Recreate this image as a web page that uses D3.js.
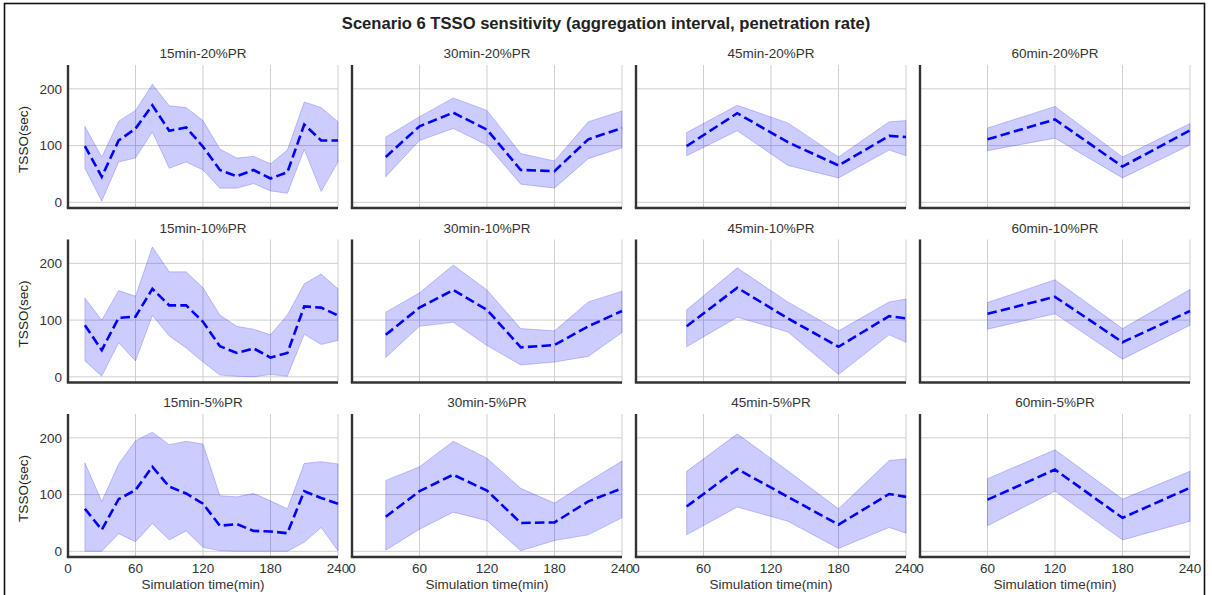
<!DOCTYPE html>
<html><head><meta charset="utf-8">
<script src="https://cdn.jsdelivr.net/npm/d3@7"></script>
<style>
html,body{margin:0;padding:0;background:#fff;}
text{font-family:"Liberation Sans",Arial,sans-serif;}
</style></head>
<body><svg id="chart" width="1212" height="595"></svg>
<script>
// ---------- data ----------
const chartTitle = "Scenario 6 TSSO sensitivity (aggregation interval, penetration rate)";
const intervals = ["15min","30min","45min","60min"];
const rates = ["20%PR","10%PR","5%PR"];
const xTicks = [0,60,120,180,240];
const yTicks = [0,100,200];
const xLabel = "Simulation time(min)";
const yLabel = "TSSO(sec)";

const x15 = [15,30,45,60,75,90,105,120,135,150,165,180,195,210,225,240];
const x30 = [30,60,90,120,150,180,210,240];
const x45 = [45,90,135,180,225,240];
const x60 = [60,120,180,240];

// 20% PR
const m15_20  = [99,45,109,130,171,126,132,98,57,46,57,42,53,137,109,109];
const hi15_20 = [134,80,143,162,208,170,167,144,94,78,81,68,92,177,167,142];
const lo15_20 = [60,2,71,78,124,60,71,57,25,25,33,20,16,93,19,71];
const m30_20  = [80,134,158,128,57,55,111,131];
const hi30_20 = [115,151,184,162,86,73,142,161];
const lo30_20 = [45,109,130,101,32,25,77,96];
const m45_20  = [99,157,106,65,117,115];
const hi45_20 = [123,171,140,80,142,144];
const lo45_20 = [82,126,65,43,92,82];
const m60_20  = [111,146,63,127];
const hi60_20 = [131,169,80,139];
const lo60_20 = [91,113,43,101];

// 10% PR
const m15_10  = [91,47,104,106,155,126,126,97,54,42,50,34,42,124,122,108];
const hi15_10 = [139,100,152,142,229,185,185,157,109,89,84,74,109,164,181,155];
const lo15_10 = [28,1,60,28,108,72,51,26,3,1,0,4,1,75,57,64];
const m30_10  = [74,122,153,118,52,56,89,116];
const hi30_10 = [114,148,197,153,85,81,132,151];
const lo30_10 = [34,89,96,55,21,26,36,78];
const m45_10  = [89,157,103,53,107,103];
const hi45_10 = [118,192,132,81,132,137];
const lo45_10 = [53,105,79,4,74,61];
const m60_10  = [111,141,61,116];
const hi60_10 = [131,171,85,154];
const lo60_10 = [84,111,31,91];

// 5% PR
const m15_5  = [75,38,92,108,149,114,102,84,45,48,36,35,32,106,94,84];
const hi15_5 = [156,88,154,195,210,188,194,189,98,96,102,89,75,155,158,154];
const lo15_5 = [0,0,31,17,49,20,36,7,1,0,0,0,0,16,42,1];
const m30_5  = [61,106,135,107,50,51,88,111];
const hi30_5 = [125,149,194,164,111,85,123,159];
const lo30_5 = [2,39,69,54,1,19,29,59];
const m45_5  = [79,145,96,47,101,96];
const hi45_5 = [141,207,142,75,160,163];
const lo45_5 = [29,78,53,5,42,32];
const m60_5  = [91,144,59,112];
const hi60_5 = [128,179,92,141];
const lo60_5 = [45,106,20,53];

const xs = [x15,x30,x45,x60];
const means = [[m15_20,m30_20,m45_20,m60_20],[m15_10,m30_10,m45_10,m60_10],[m15_5,m30_5,m45_5,m60_5]];
const highs = [[hi15_20,hi30_20,hi45_20,hi60_20],[hi15_10,hi30_10,hi45_10,hi60_10],[hi15_5,hi30_5,hi45_5,hi60_5]];
const lows  = [[lo15_20,lo30_20,lo45_20,lo60_20],[lo15_10,lo30_10,lo45_10,lo60_10],[lo15_5,lo30_5,lo45_5,lo60_5]];

// ---------- layout ----------
const svg = d3.select("#chart");
const left0 = 68, colStep = 284, plotW = 270;
const top0 = 65, rowStep = 174.5, plotH = 143;
const fs = 13.5;

svg.append("rect").attr("x",4.5).attr("y",3.5).attr("width",1200).attr("height",620)
  .attr("fill","none").attr("stroke","#111").attr("stroke-width",1.6);

svg.append("text").attr("x",606).attr("y",29).attr("text-anchor","middle")
  .attr("font-size",16.6).attr("font-weight","bold").attr("fill","#222").text(chartTitle);

const x = d3.scaleLinear().domain([0,240]).range([0,plotW]);
const y = d3.scaleLinear().domain([-10,242]).range([plotH,0]);

rates.forEach((rate,r)=>{
  intervals.forEach((iv,c)=>{
    const g = svg.append("g").attr("transform",`translate(${left0+c*colStep},${top0+r*rowStep})`);
    // grid
    g.selectAll(".vg").data(xTicks).join("line")
      .attr("x1",d=>x(d)).attr("x2",d=>x(d)).attr("y1",0).attr("y2",plotH)
      .attr("stroke","#cfcfcf").attr("stroke-width",1);
    g.selectAll(".hg").data(yTicks).join("line")
      .attr("x1",0).attr("x2",plotW).attr("y1",d=>y(d)).attr("y2",d=>y(d))
      .attr("stroke","#cfcfcf").attr("stroke-width",1);

    const xd = xs[c], md = means[r][c], hd = highs[r][c], ld = lows[r][c];
    const idx = d3.range(xd.length);
    const area = d3.area().x(i=>x(xd[i])).y0(i=>y(ld[i])).y1(i=>y(hd[i]));
    g.append("path").datum(idx).attr("d",area)
      .attr("fill","#0000ff").attr("fill-opacity",0.2)
      .attr("stroke","#0000ff").attr("stroke-opacity",0.2).attr("stroke-width",1);
    const line = d3.line().x(i=>x(xd[i])).y(i=>y(md[i]));
    g.append("path").datum(idx).attr("d",line)
      .attr("fill","none").attr("stroke","#0000ff").attr("stroke-width",2.6)
      .attr("stroke-dasharray","9.5,4.2");

    // spines
    g.append("line").attr("x1",0).attr("x2",0).attr("y1",0).attr("y2",plotH)
      .attr("stroke","#333").attr("stroke-width",2.4);
    g.append("line").attr("x1",-1.2).attr("x2",plotW).attr("y1",plotH).attr("y2",plotH)
      .attr("stroke","#333").attr("stroke-width",2.4);

    // subplot title
    g.append("text").attr("x",plotW/2).attr("y",-7).attr("text-anchor","middle")
      .attr("font-size",fs).attr("fill","#333").text(`${iv}-${rate}`);

    if(c===0){
      g.selectAll(".yt").data(yTicks).join("text")
        .attr("x",-6).attr("y",d=>y(d)).attr("dy","0.35em").attr("text-anchor","end")
        .attr("font-size",fs).attr("fill","#333").text(d=>d);
      g.append("text").attr("transform",`translate(-40,${plotH/2+3}) rotate(-90)`)
        .attr("text-anchor","middle").attr("font-size",fs).attr("fill","#222").text(yLabel);
    }
    if(r===rates.length-1){
      g.selectAll(".xt").data(xTicks).join("text")
        .attr("x",d=>x(d)).attr("y",plotH+11).attr("dy","0.35em").attr("text-anchor","middle")
        .attr("font-size",fs).attr("fill","#333").text(d=>d);
      g.append("text").attr("x",plotW/2).attr("y",plotH+32).attr("text-anchor","middle")
        .attr("font-size",fs).attr("fill","#333").text(xLabel);
    }
  });
});
</script></body></html>
